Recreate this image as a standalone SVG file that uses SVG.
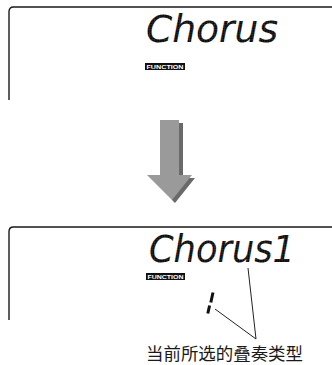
<svg xmlns="http://www.w3.org/2000/svg" width="332" height="365" viewBox="0 0 332 365">
<style>
.frame{fill:none;stroke:#1a1a1a;stroke-width:1.4}
.lcd{font-family:"DejaVu Sans","Liberation Sans",sans-serif;font-style:oblique;font-size:37px;fill:url(#dots)}
.fn{fill:#111}
.fnt{font-family:"Liberation Sans","DejaVu Sans",sans-serif;font-weight:bold;font-size:6px;fill:#fff}
.lead{fill:none;stroke:#222;stroke-width:1}
.cap{font-family:"Noto Sans CJK SC","Noto Sans",sans-serif;font-size:17.5px;fill:#1a1a1a}
</style>
<defs>
<pattern id="dots" width="2.5" height="2.5" patternUnits="userSpaceOnUse">
<rect x="0" y="0" width="2.5" height="2.5" fill="#444"/>
<rect x="0.1" y="0.1" width="2" height="2" fill="#000"/>
</pattern>
</defs>
<g id="panel1">
<path class="frame" d="M9,100 V11.5 Q9,7 13.5,7 H332"/>
<text class="lcd" x="146" y="42" textLength="132" lengthAdjust="spacingAndGlyphs">Chorus</text>
<rect class="fn" x="145" y="63" width="40" height="7"/>
<text class="fnt" x="146.5" y="68.9" textLength="37" lengthAdjust="spacingAndGlyphs">FUNCTION</text>
</g>
<g id="arrow">
<polygon fill="#6a6a6a" points="164,123 183,123 183,178 195,178 175,203 172,200"/>
<polygon fill="#9a9a9a" points="160,120 179,120 179,175 192,175 172,200 147,175 160,175"/>
</g>
<g id="panel2">
<path class="frame" d="M9,320 V231.5 Q9,227 13.5,227 H332"/>
<text class="lcd" x="149" y="262" textLength="146" lengthAdjust="spacingAndGlyphs">Chorus1</text>
<rect class="fn" x="146" y="273" width="39" height="7"/>
<text class="fnt" x="147.5" y="278.9" textLength="36" lengthAdjust="spacingAndGlyphs">FUNCTION</text>
<path d="M213,292.5 L210.8,302.5 M209.6,305.5 L207.8,313.5" stroke="#111" stroke-width="3" stroke-linecap="butt" fill="none"/>
</g>
<g id="connectors">
<path class="lead" d="M215,309 L256,339 M248,268 L256,339"/>
</g>
<g id="label">
<text class="cap" x="146" y="360" textLength="157" lengthAdjust="spacingAndGlyphs">当前所选的叠奏类型</text>
</g>
</svg>
